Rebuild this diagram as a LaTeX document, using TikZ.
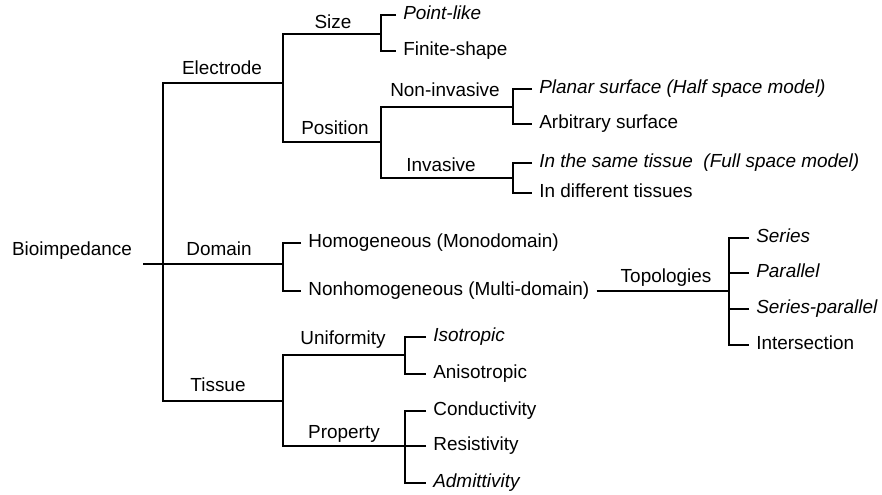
\documentclass[tikz,border=0pt]{standalone}
\usepackage{fontspec}
\setmainfont{Liberation Sans}

\tikzset{every picture/.style={line width=1pt}}
\tikzset{
  lbl/.style={inner sep=0pt, text height=0.7em, text depth=0pt, font=\fontsize{14.2}{17}\selectfont},
  leaf/.style={lbl, anchor=west, inner xsep=5pt}
}

\begin{document}
\begin{tikzpicture}[x=0.75pt,y=0.75pt,yscale=-1,xscale=1]
	\useasboundingbox (0,0) rectangle (882,494);
	
	%Junctions
	\coordinate (r) at (143,264);
	\coordinate (j0) at (163,264);
	\coordinate (jElec) at (283,83);
	\coordinate (jDom) at (283,264);
	\coordinate (jTis) at (283,401);
	\coordinate (jSize) at (381,34);
	\coordinate (jPos) at (381,142);
	\coordinate (jNon) at (513,107);
	\coordinate (jInv) at (513,178);
	\coordinate (jTop) at (729,291);
	\coordinate (jUni) at (405,355);
	\coordinate (jProp) at (405,446);
	
	% Text Node
	\node [lbl] (root) at (72,251) {Bioimpedance};
	% Text Node
	\node [lbl] (elec) at (222,70) {Electrode};
	% Text Node
	\node [lbl] (dom) at (219,251) {Domain};
	% Text Node
	\node [lbl] (tis) at (218,387) {Tissue};
	% Text Node
	\node [lbl] (size) at (333,24) {Size};
	% Text Node
	\node [lbl] (pos) at (335,130) {Position};
	% Text Node
	\node [lbl] (noninv) at (445,92) {Non-invasive};
	% Text Node
	\node [lbl] (inv) at (441,167) {Invasive};
	% Text Node
	\node [lbl] (top) at (666,278) {Topologies};
	% Text Node
	\node [lbl] (uni) at (343,340) {Uniformity};
	% Text Node
	\node [lbl] (prop) at (344,434) {Property};
	
	% Text Node
	\node [leaf] (point) at (396,15) {\itshape Point-like};
	% Text Node
	\node [leaf] (finite) at (396,51) {Finite-shape};
	% Text Node
	\node [leaf] (planar) at (532,89) {\itshape Planar surface (Half space model)};
	% Text Node
	\node [leaf] (arbit) at (532,124) {Arbitrary surface};
	% Text Node
	\node [leaf] (same) at (532,163) {\itshape In the same tissue~~(Full space model)};
	% Text Node
	\node [leaf] (diff) at (532,193) {In different tissues};
	% Text Node
	\node [leaf] (homog) at (301,243) {Homogeneous (Monodomain)};
	% Text Node
	\node [leaf] (nonhom) at (301,291) {Nonhomogeneous (Multi-domain)};
	% Text Node
	\node [leaf] (series) at (749,238) {\itshape Series};
	% Text Node
	\node [leaf] (paral) at (749,273) {\itshape Parallel};
	% Text Node
	\node [leaf] (serpar) at (749,309) {\itshape Series-parallel};
	% Text Node
	\node [leaf] (inter) at (749,345) {Intersection};
	% Text Node
	\node [leaf] (iso) at (426,337) {\itshape Isotropic};
	% Text Node
	\node [leaf] (aniso) at (426,374) {Anisotropic};
	% Text Node
	\node [leaf] (cond) at (426,411) {Conductivity};
	% Text Node
	\node [leaf] (resist) at (426,446) {Resistivity};
	% Text Node
	\node [leaf] (admit) at (426,483) {\itshape Admittivity};
	
	%Straight Lines
	\draw (r) -- (jDom);
	%Straight Lines
	\draw (jElec) -| (j0) |- (jTis);
	%Straight Lines
	\draw (jSize) -| (jElec) |- (jPos);
	%Straight Lines
	\draw (jNon) -| (jPos) |- (jInv);
	%Straight Lines
	\draw (point.west) -| (jSize) |- (finite.west);
	%Straight Lines
	\draw (planar.west) -| (jNon) |- (arbit.west);
	%Straight Lines
	\draw (same.west) -| (jInv) |- (diff.west);
	%Straight Lines
	\draw (homog.west) -| (jDom) |- (nonhom.west);
	%Straight Lines
	\draw (nonhom.east) -- (jTop);
	%Straight Lines
	\draw (series.west) -| (jTop) |- (inter.west);
	%Straight Lines
	\draw (paral.west) -- (paral.west -| jTop);
	%Straight Lines
	\draw (serpar.west) -- (serpar.west -| jTop);
	%Straight Lines
	\draw (jUni) -| (jTis) |- (jProp);
	%Straight Lines
	\draw (iso.west) -| (jUni) |- (aniso.west);
	%Straight Lines
	\draw (cond.west) -| (jProp) |- (admit.west);
	%Straight Lines
	\draw (resist.west) -- (jProp);
	
\end{tikzpicture}
\end{document}
